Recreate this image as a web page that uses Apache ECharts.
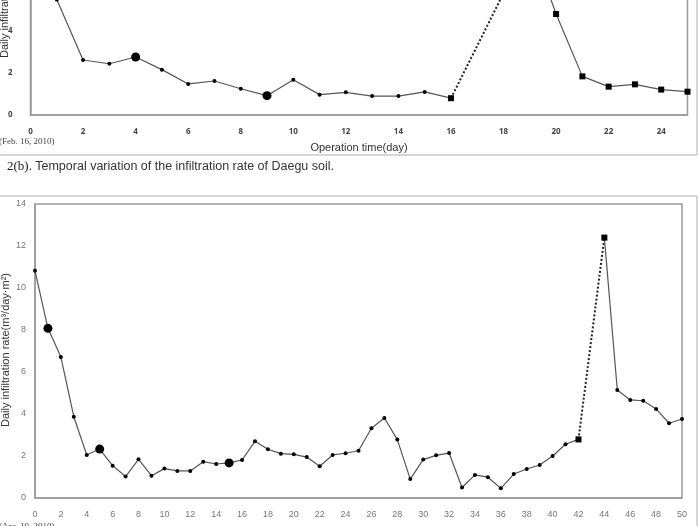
<!DOCTYPE html>
<html>
<head>
<meta charset="utf-8">
<script src="https://cdn.jsdelivr.net/npm/echarts@6/dist/echarts.min.js"></script>
<style>
html,body{margin:0;padding:0;background:#fff;}
#c{width:698px;height:526px;}
</style>
</head>
<body>
<div id="c"></div>
<script>
// ---- Data: chart 2(b) (Daegu soil, upper, cropped) ----
const topDays = [0,1,2,3,4,5,6,7,8,9,10,11,12,13,14,15,16];
const topVals = [9.6,5.5,2.62,2.44,2.76,2.16,1.48,1.62,1.25,0.92,1.68,0.97,1.08,0.9,0.9,1.1,0.8];
const topPeakDay = 19;
const topPeakVal = 8.3;
const topAfterDays = [20,21,22,23,24,25];
const topAfterVals = [4.81,1.84,1.35,1.46,1.21,1.11];
const topBigDays = [4,9];

// ---- Data: lower chart ----
const botDays = [0,1,2,3,4,5,6,7,8,9,10,11,12,13,14,15,16,17,18,19,20,21,22,23,24,25,26,27,28,29,30,31,32,33,34,35,36,37,38,39,40,41,42];
const botVals = [10.82,8.08,6.71,3.87,2.05,2.33,1.54,1.02,1.84,1.06,1.40,1.29,1.29,1.73,1.62,1.67,1.81,2.70,2.32,2.11,2.08,1.95,1.51,2.05,2.13,2.25,3.32,3.81,2.78,0.90,1.83,2.03,2.14,0.50,1.10,0.99,0.46,1.14,1.38,1.57,2.00,2.56,2.79];
const botPeakDay = 44;
const botPeakVal = 12.4;
const botAfterDays = [45,46,47,48,49,50];
const botAfterVals = [5.14,4.67,4.63,4.24,3.56,3.76];
const botBigDays = [1,5,15];

const yTicks = [0,2,4,6,8,10,12,14];
const yName = 'Daily infiltration rate(m\u00b3/day\u00b7m\u00b2)';
const xName = 'Operation time(day)';
const caption = 'Temporal variation of the infiltration rate of Daegu soil.';

const chart = echarts.init(document.getElementById('c'));
const lineColor = '#555';
const frameColor = '#9a9a9a';

function pts(days, vals, bigDays, lastRect){
  return days.map((d,i)=>{
    const o = {value:[d, vals[i]]};
    if (bigDays.indexOf(d) >= 0) { o.symbol='circle'; o.symbolSize=9; }
    if (lastRect && i === days.length-1) { o.symbol='rect'; o.symbolSize=6; }
    return o;
  });
}

function xAxisCfg(gi, max, labelStyle, nameGap, margin){
  return {
    gridIndex: gi, type:'value', min:0, max:max, interval:2,
    axisLine:{show:true, lineStyle:{color:frameColor, width:1.5}},
    axisTick:{show:false}, splitLine:{show:false},
    axisLabel: Object.assign({margin:margin, showMaxLabel: max % 2 === 0}, labelStyle),
    name: xName, nameLocation:'middle', nameGap: nameGap,
    nameTextStyle:{fontFamily:'Liberation Sans', fontSize:11, color:'#333'}
  };
}
function yAxisCfg(gi, labelStyle, margin){
  return {
    gridIndex: gi, type:'value', min:yTicks[0], max:yTicks[yTicks.length-1], interval:2,
    axisLine:{show:true, lineStyle:{color:frameColor, width:1.5}},
    axisTick:{show:false}, splitLine:{show:false},
    axisLabel: Object.assign({margin:margin}, labelStyle)
  };
}

const topLabel = {fontFamily:'Noto Sans', fontWeight:'bold', fontSize:8, color:'#444'};
const botLabel = {fontFamily:'Liberation Sans', fontSize:9, color:'#777'};
const yNameStyle = {text:yName, fontFamily:'Liberation Sans', fontSize:11, fill:'#333', textAlign:'center', textVerticalAlign:'middle'};

const option = {
  animation:false,
  backgroundColor:'#fff',
  grid:[
    {left:30.5, top:-179, width:657, height:294, show:true, borderColor:frameColor, borderWidth:1.5, backgroundColor:'transparent', outerBoundsMode:'none', containLabel:false},
    {left:35, top:204, width:647, height:294, show:true, borderColor:frameColor, borderWidth:1.5, backgroundColor:'transparent', outerBoundsMode:'none', containLabel:false}
  ],
  xAxis:[ xAxisCfg(0, 25, topLabel, 27, 13), xAxisCfg(1, 50, botLabel, 27, 12) ],
  yAxis:[ yAxisCfg(0, topLabel, 18), yAxisCfg(1, botLabel, 9) ],
  series:[
    {type:'line', xAxisIndex:0, yAxisIndex:0, data: pts(topDays, topVals, topBigDays, true),
     symbol:'circle', symbolSize:4, itemStyle:{color:'#000'}, lineStyle:{color:lineColor, width:1.2}},
    {type:'line', xAxisIndex:0, yAxisIndex:0, data: [[topDays[topDays.length-1], topVals[topVals.length-1]],[topPeakDay, topPeakVal]],
     showSymbol:false, lineStyle:{color:'#222', width:2, type:[2,2]}},
    {type:'line', xAxisIndex:0, yAxisIndex:0, data: [[topPeakDay, topPeakVal]].concat(topAfterDays.map((d,i)=>[d, topAfterVals[i]])),
     symbol:'rect', symbolSize:6, itemStyle:{color:'#000'}, lineStyle:{color:lineColor, width:1.2}},

    {type:'line', xAxisIndex:1, yAxisIndex:1, data: pts(botDays, botVals, botBigDays, true),
     symbol:'circle', symbolSize:4, itemStyle:{color:'#000'}, lineStyle:{color:lineColor, width:1.2}},
    {type:'line', xAxisIndex:1, yAxisIndex:1, data: [[botDays[botDays.length-1], botVals[botVals.length-1]],[botPeakDay, botPeakVal]],
     showSymbol:false, lineStyle:{color:'#222', width:2, type:[2,2]}},
    {type:'line', xAxisIndex:1, yAxisIndex:1,
     data: [{value:[botPeakDay, botPeakVal], symbol:'rect', symbolSize:6}].concat(botAfterDays.map((d,i)=>[d, botAfterVals[i]])),
     symbol:'circle', symbolSize:4, itemStyle:{color:'#000'}, lineStyle:{color:lineColor, width:1.2}}
  ],
  graphic:[
    {type:'line', shape:{x1:0,y1:155,x2:697,y2:155}, style:{stroke:'#c8c8c8', lineWidth:1.5}},
    {type:'line', shape:{x1:697,y1:0,x2:697,y2:155}, style:{stroke:'#c8c8c8', lineWidth:1.5}},
    {type:'line', shape:{x1:0,y1:196,x2:697,y2:196}, style:{stroke:'#c8c8c8', lineWidth:1.5}},
    {type:'line', shape:{x1:697,y1:196,x2:697,y2:526}, style:{stroke:'#c8c8c8', lineWidth:1.5}},
    {type:'text', x:4.5, y:-19, rotation:Math.PI/2, style:yNameStyle},
    {type:'text', x:6, y:350, rotation:Math.PI/2, style:yNameStyle},
    {type:'text', left:-1, top:137, style:{text:'(Feb. 16, 2010)', fontFamily:'Liberation Serif', fontSize:9, fill:'#444'}},
    {type:'text', left:-1, top:522, style:{text:'(Apr. 19, 2010)', fontFamily:'Liberation Serif', fontSize:9, fill:'#444'}},
    {type:'text', left:7, top:160, style:{
      text:'{a|2(b).} {b|' + caption + '}',
      rich:{a:{fontFamily:'Liberation Sans Narrow', fontSize:13, fill:'#222'}, b:{fontFamily:'Liberation Sans', fontSize:12.5, fill:'#333'}}
    }}
  ]
};
chart.setOption(option);
</script>
</body>
</html>
